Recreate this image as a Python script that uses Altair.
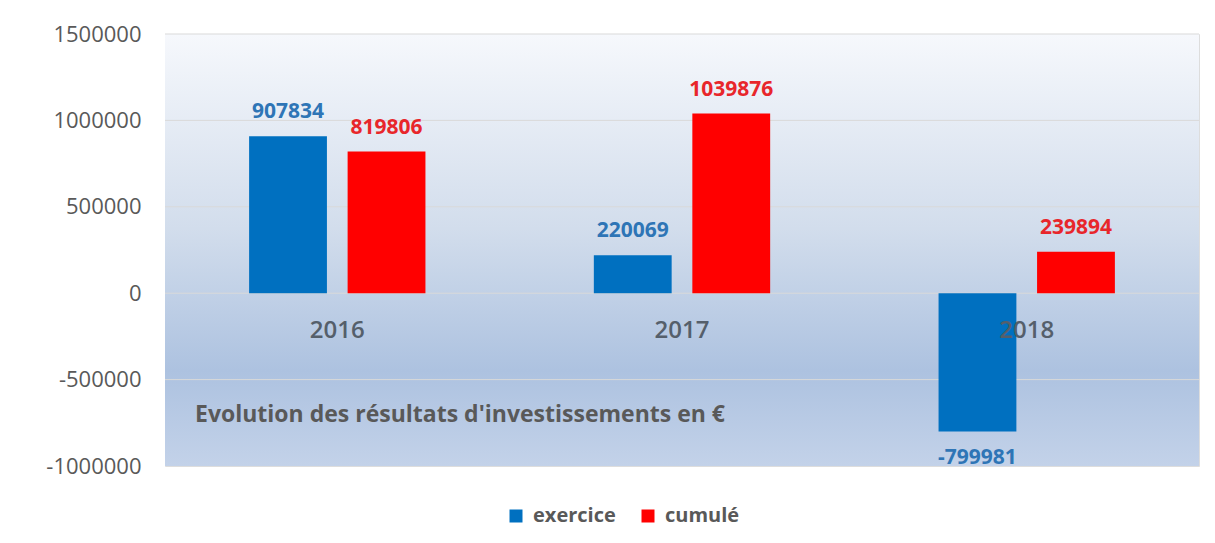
import altair as alt
import pandas as pd

years = ["2016", "2017", "2018"]
series = ["exercice", "cumulé"]
exercice = [907834, 220069, -799981]
cumule = [819806, 1039876, 239894]
y_ticks = [-1000000, -500000, 0, 500000, 1000000, 1500000]
title_text = "Evolution des résultats d'investissements en €"

rows = []
for i, yr in enumerate(years):
    rows.append({"year": yr, "serie": series[0], "value": exercice[i]})
    rows.append({"year": yr, "serie": series[1], "value": cumule[i]})
df = pd.DataFrame(rows)

W, H = 1034, 432
FONT = "Open Sans"
GRAY = "#595959"
BAR_COLORS = ["#0070c0", "#ff0000"]

yscale = alt.Scale(domain=[-1000000, 1500000], nice=False, zero=False)
xscale = alt.Scale(domain=years, paddingInner=0.4885, paddingOuter=0.244)
offscale = alt.Scale(domain=series, paddingInner=0.21, paddingOuter=0)

yaxis = alt.Axis(
    values=y_ticks, grid=False, domain=False, ticks=False, labelPadding=24,
    labelFont=FONT, labelFontSize=22, labelColor=GRAY, title=None,
    minExtent=152, maxExtent=152, labelExpr="toString(datum.value)",
    labelFlush=False, labelOverlap=False)

bg = alt.Chart(pd.DataFrame({"k": [0]})).mark_rect(
    fill=alt.Gradient(
        gradient="linear", x1=0, x2=0, y1=0, y2=1,
        stops=[
            alt.GradientStop(offset=0, color="#f6f8fc"),
            alt.GradientStop(offset=0.45, color="#d2ddec"),
            alt.GradientStop(offset=0.78, color="#adc2e0"),
            alt.GradientStop(offset=1, color="#c3d2e9"),
        ],
    )
).encode(x=alt.value(0), x2=alt.value(W), y=alt.value(0), y2=alt.value(H))

grid = alt.Chart(pd.DataFrame({"t": y_ticks[1:]})).mark_rule(
    color="#d9d9d9", strokeWidth=1
).encode(y=alt.Y("t:Q", scale=yscale, axis=yaxis))

X = alt.X("year:N", scale=xscale, axis=None, sort=years)
XO = alt.XOffset("serie:N", scale=offscale, sort=series)

bars = alt.Chart(df).mark_bar().encode(
    x=X, xOffset=XO,
    y=alt.Y("value:Q", scale=yscale, axis=yaxis),
    y2=alt.datum(0),
    color=alt.Color("serie:N", sort=series,
                    scale=alt.Scale(domain=series, range=BAR_COLORS),
                    legend=alt.Legend(
                        orient="none", legendX=341, legendY=472,
                        direction="horizontal", title=None,
                        symbolType="square", symbolSize=169,
                        symbolStrokeWidth=0, labelFont=FONT,
                        labelFontSize=20, labelFontWeight="bold",
                        labelColor=GRAY, labelOffset=7, columnPadding=22,
                        padding=0)),
)

label_color = alt.condition(alt.datum.serie == "exercice",
                            alt.value("#2e75b6"), alt.value("#e8262b"))

pos_labels = alt.Chart(df).transform_filter(alt.datum.value >= 0).transform_calculate(
    lbl="toString(datum.value)"
).mark_text(
    dy=-24, font=FONT, fontSize=21, fontWeight="bold", baseline="middle"
).encode(x=X, xOffset=XO, y=alt.Y("value:Q", scale=yscale, axis=yaxis),
         text="lbl:N", color=label_color)

neg_labels = alt.Chart(df).transform_filter(alt.datum.value < 0).transform_calculate(
    lbl="toString(datum.value)"
).mark_text(
    dy=27, font=FONT, fontSize=21, fontWeight="bold", baseline="middle"
).encode(x=X, xOffset=XO, y=alt.Y("value:Q", scale=yscale, axis=yaxis),
         text="lbl:N", color=label_color)

year_labels = alt.Chart(pd.DataFrame({"year": years, "zero": [0, 0, 0]})).mark_text(
    dy=38, font=FONT, fontSize=24, fontWeight=600, color="#555f6b",
    baseline="middle"
).encode(x=X, y=alt.Y("zero:Q", scale=yscale, axis=yaxis), text="year:N")

chart = alt.layer(bg, grid, bars, pos_labels, neg_labels, year_labels).properties(
    width=W, height=H,
    padding={"left": 5, "top": 15, "right": 5, "bottom": 5},
    title=alt.Title(title_text, anchor="start", orient="top", frame="group",
                    dx=30, dy=415, offset=0, baseline="middle",
                    font=FONT, fontSize=23, fontWeight="bold", color=GRAY),
).configure_view(stroke=None).configure(background="white")

chart.save("out.html", embed_options={"renderer": "svg", "actions": False})
